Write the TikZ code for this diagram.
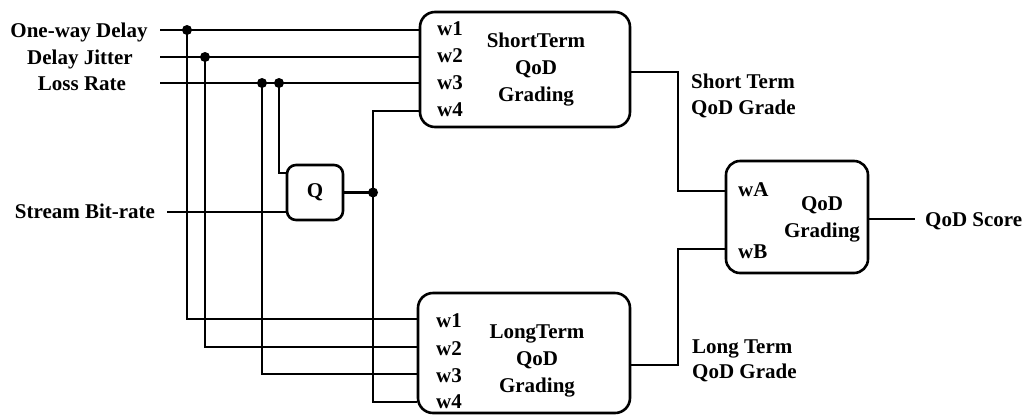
\documentclass[tikz,border=0pt]{standalone}
\usepackage{fontspec}
\setmainfont{Liberation Serif}
\begin{document}
\begin{tikzpicture}[x=1pt,y=-1pt,
  wire/.style={line width=2.3pt},
  blk/.style={draw,line width=2.6pt,inner sep=0pt},
  lbl/.style={inner sep=0pt,font=\fontsize{21}{27}\selectfont\bfseries},
  jdot/.style={fill,radius=5pt}]
\useasboundingbox[fill=white] (0,0) rectangle (1026,416);

% blocks
\node[blk,rounded corners=15pt,minimum width=210pt,minimum height=115pt] (st) at (525,69.5) {};
\node[blk,rounded corners=15pt,minimum width=212pt,minimum height=120pt] (lt) at (524,353) {};
\node[blk,rounded corners=9pt,minimum width=56pt,minimum height=55pt] (q) at (315,192.5) {};
\node[blk,rounded corners=14pt,minimum width=142pt,minimum height=112pt] (g) at (797,217) {};

% block texts
\node[lbl,align=center] (stt) at (536,70) {ShortTerm\\QoD\\Grading};
\node[lbl,align=center] (ltt) at (537,361) {LongTerm\\QoD\\Grading};
\node[lbl] (qt) at (315,192) {Q};
\node[lbl,align=center] (gt) at (822,219) {QoD\\Grading};
\node[lbl,anchor=base west] (sw1) at (437,35) {w1};
\node[lbl,anchor=base west] (sw2) at (437,62) {w2};
\node[lbl,anchor=base west] (sw3) at (437,89) {w3};
\node[lbl,anchor=base west] (sw4) at (437,116) {w4};
\node[lbl,anchor=base west] (lw1) at (436,327) {w1};
\node[lbl,anchor=base west] (lw2) at (436,355) {w2};
\node[lbl,anchor=base west] (lw3) at (436,382) {w3};
\node[lbl,anchor=base west] (lw4) at (436,408) {w4};
\node[lbl,anchor=base west] (wa) at (738,196) {wA};
\node[lbl,anchor=base west] (wb) at (738,258) {wB};

% input labels
\node[lbl,anchor=base] (od) at (79,37) {One-way Delay};
\node[lbl,anchor=base] (dj) at (80,64) {Delay Jitter};
\node[lbl,anchor=base] (lr) at (82,90) {Loss Rate};
\node[lbl,anchor=base] (sb) at (85,218) {Stream Bit-rate};

% output labels
\node[lbl,anchor=base west] (sg) at (691,88) {Short Term};
\node[lbl,anchor=base west] (sg2) at (691,114) {QoD Grade};
\node[lbl,anchor=base west] (lg) at (692,353) {Long Term};
\node[lbl,anchor=base west] (lg2) at (692,378) {QoD Grade};
\node[lbl,anchor=base west] (sc) at (925,226) {QoD Score};

% coordinates
\coordinate (a1) at (160,30);
\coordinate (a2) at (160,57);
\coordinate (a3) at (160,83);
\coordinate (a4) at (167,212);
\coordinate (st1) at (st.west |- a1);
\coordinate (st2) at (st.west |- a2);
\coordinate (st3) at (st.west |- a3);
\coordinate (st4) at (st.west |- 0,111);
\coordinate (lt1) at (lt.west |- 0,319);
\coordinate (lt2) at (lt.west |- 0,347);
\coordinate (lt3) at (lt.west |- 0,374);
\coordinate (lt4) at (lt.west |- 0,402);
\coordinate (j1) at (187,30);
\coordinate (j2) at (205,57);
\coordinate (j3) at (262,83);
\coordinate (j4) at (279,83);
\coordinate (j5) at (373,192.5);
\coordinate (qin) at (q.west |- 0,173);
\coordinate (so) at (st.east |- 0,72);
\coordinate (ta) at (678,72);
\coordinate (ga) at (g.west |- 0,191);
\coordinate (lo) at (lt.east |- 0,365);
\coordinate (tb) at (678,365);
\coordinate (gb) at (g.west |- 0,249);
\coordinate (gs) at (g.east |- 0,219);
\coordinate (sce) at (915,219);

% wires
\draw[wire] (a1) -- (st1);
\draw[wire] (a2) -- (st2);
\draw[wire] (a3) -- (st3);
\draw[wire] (j1) |- (lt1);
\draw[wire] (j2) |- (lt2);
\draw[wire] (j3) |- (lt3);
\draw[wire] (j4) |- (qin);
\draw[wire] (a4) -- (q.west |- a4);
\draw[wire] (q.east) -- (j5);
\draw[wire] (st4) -| (j5) |- (lt4);
\draw[wire] (so) -- (ta) |- (ga);
\draw[wire] (lo) -- (tb) |- (gb);
\draw[wire] (gs) -- (sce);

% junction dots
\foreach \j in {j1,j2,j3,j4,j5} \fill[jdot] (\j) circle;
\end{tikzpicture}
\end{document}
